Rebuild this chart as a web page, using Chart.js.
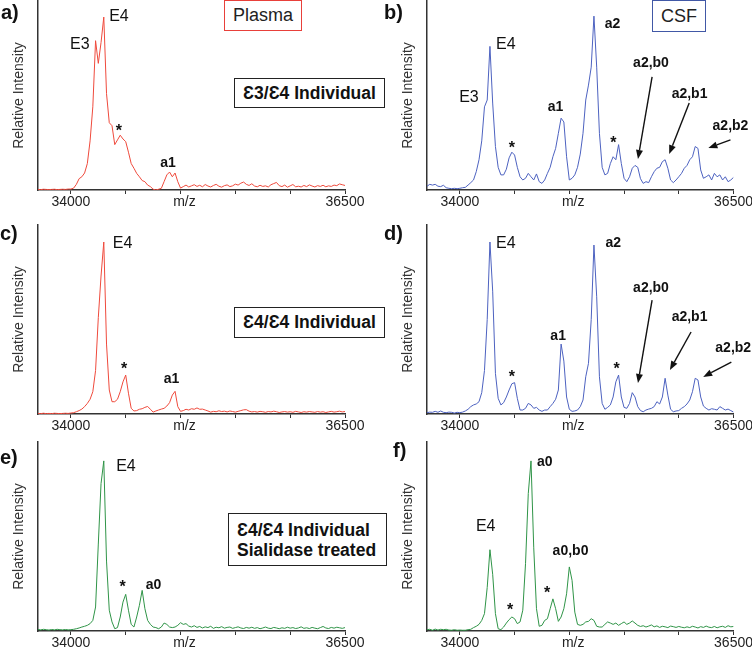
<!DOCTYPE html>
<html lang="en">
<head>
<meta charset="UTF-8">
<title>ApoE mass spectra</title>
<script src="https://cdn.jsdelivr.net/npm/chart.js"></script>
<style>
  body { margin: 0; width: 752px; height: 650px; overflow: hidden; background: #fff; position: relative;
         font-family: "Liberation Sans", Arial, Helvetica, sans-serif; color: #222; }
  .panel { position: absolute; }
  .plab { position: absolute; font-weight: bold; font-size: 20px; line-height: 20px; color: #111; }
  .box { position: absolute; box-sizing: border-box; border: 1.5px solid #222; background: #fff;
         display: flex; align-items: center; justify-content: center; z-index: 5; }
  .big { font-weight: bold; font-size: 17.5px; color: #111; }
</style>
</head>
<body>
<div class="panel" style="left:0;top:0"><canvas id="chA" width="376" height="210"></canvas></div>
<div class="panel" style="left:389px;top:0"><canvas id="chB" width="364" height="210"></canvas></div>
<div class="panel" style="left:0;top:224px"><canvas id="chC" width="376" height="210"></canvas></div>
<div class="panel" style="left:389px;top:224px"><canvas id="chD" width="364" height="210"></canvas></div>
<div class="panel" style="left:0;top:441px"><canvas id="chE" width="376" height="210"></canvas></div>
<div class="panel" style="left:389px;top:441px"><canvas id="chF" width="364" height="210"></canvas></div>

<div class="plab" style="left:1px;top:2px">a)</div>
<div class="plab" style="left:384px;top:2px">b)</div>
<div class="plab" style="left:0;top:223px">c)</div>
<div class="plab" style="left:384px;top:223px">d)</div>
<div class="plab" style="left:0;top:447px">e)</div>
<div class="plab" style="left:393px;top:440px">f)</div>

<div class="box" style="left:224px;top:0;width:78px;height:31px;border-color:#e8403a;font-size:18px">Plasma</div>
<div class="box" style="left:652px;top:0;width:54px;height:32px;border-color:#4158a6;font-size:18px">CSF</div>
<div class="box big" style="left:234px;top:78px;width:151px;height:30px">Ɛ3/Ɛ4 Individual</div>
<div class="box big" style="left:234px;top:307px;width:151px;height:31px">Ɛ4/Ɛ4 Individual</div>
<div class="box big" style="left:228px;top:513px;width:159px;height:53px;justify-content:flex-start;padding-left:8px;line-height:20px">Ɛ4/Ɛ4 Individual<br>Sialidase treated</div>

<script>
// m/z grid (25 Da steps)
const mz = [33700,33725,33750,33775,33800,33825,33850,33875,33900,33925,
  33950,33975,34000,34025,34050,34075,34100,34125,34150,34175,
  34200,34225,34250,34275,34300,34325,34350,34375,34400,34425,
  34450,34475,34500,34525,34550,34575,34600,34625,34650,34675,
  34700,34725,34750,34775,34800,34825,34850,34875,34900,34925,
  34950,34975,35000,35025,35050,35075,35100,35125,35150,35175,
  35200,35225,35250,35275,35300,35325,35350,35375,35400,35425,
  35450,35475,35500,35525,35550,35575,35600,35625,35650,35675,
  35700,35725,35750,35775,35800,35825,35850,35875,35900,35925,
  35950,35975,36000,36025,36050,36075,36100,36125,36150,36175,
  36200,36225,36250,36275,36300,36325,36350,36375,36400,36425,
  36450,36475,36500];

// relative intensities
const plasmaE3E4 = [0.3,0.2,0.4,0.3,0.2,0.3,0.4,0.2,0.3,0.4,
  0.3,0.5,0.5,1,3,6,7,9,14,26,
  44,79,67,78,91.5,51,35.6,34,24,26.5,
  29,27,25.6,20,14,11.5,8.8,7,5,4.4,
  2.6,1.8,0.4,0,0.4,0.9,4.4,8,9.5,7,
  9,4.4,1,1.8,2.6,1.6,2.2,2.8,1.9,2.5,
  1.7,2.9,2.1,1.6,2.4,3.0,2.0,1.5,2.3,2.7,
  1.8,2.2,3.1,2.6,3.6,4.2,3.0,2.4,3.3,2.1,
  1.7,2.5,1.9,2.2,1.6,2.8,3.4,4.0,2.3,1.8,
  2.6,1.5,2.2,2.9,1.7,2.0,1.6,2.4,1.8,2.7,
  2.1,1.6,2.3,1.9,2.5,1.7,2.2,1.9,2.6,2.3,
  3.2,2.8,2.4];
const csfE3E4 = [2,3,2.6,3,2,1.8,2.5,1.2,0.9,0.7,
  0.9,0.7,0.9,1.2,1.4,2.6,3.9,5.3,9.7,16,
  26,44,47.6,76,46,23,12,8,8,11,
  17,20,18.5,12,7,5.3,6.2,8.8,7,5.3,
  8.5,4.4,3.5,5.3,8.8,12,17.6,22,30,38,
  36,17.6,5.3,6.2,8,12,19,30,47.6,55.5,
  65,92,65,30,12,8,8.8,14,17.6,16,
  24,14,6.2,4.4,7,11.5,13,12,6,3.5,
  4.4,3.9,7,9.7,11.5,12,15,16,11.5,5.3,
  3.9,5.3,7,8.8,11.5,13,16,17.6,23,22,
  10.6,6.2,7,8,5.3,8.8,7,8,5.3,7,
  4.4,5.3,6.7];
const plasmaE4E4 = [0.3,0.2,0.4,0.2,0.3,0.2,0.4,0.3,0.2,0.3,
  0.4,0.3,0.5,0.7,1.2,1.8,2.6,3.9,5.6,7.8,
  11.8,23,51,73,91,37,12.7,6.5,6.5,7.8,
  11.8,17,20.6,11,3,1.6,1.8,2.5,2.8,3.5,
  4,2.5,1,1.6,2.1,2.6,3,4.2,6,10,
  12,3.9,1.4,1.8,2.5,2.1,2.8,2.5,3.2,2.5,
  2.6,2.1,1.6,1,1.4,1.2,1.7,1.3,1.5,1.1,
  1.6,1.3,1.0,1.4,1.8,2.2,2.3,1.5,1.1,1.3,
  1.0,1.4,1.2,0.9,1.3,1.1,1.5,1.2,0.8,1.1,
  1.3,1.0,1.2,0.9,1.4,1.1,0.8,1.2,1.0,1.3,
  1.1,0.9,1.3,1.0,1.2,0.8,1.1,1.4,1.0,1.2,
  1.5,1.1,1.3];
const csfE4E4 = [0.7,1,0.9,1.4,0.9,1.6,0.9,0.7,1,0.9,
  0.5,0.9,0.7,1,1.6,2.5,3.9,4.8,5.3,6.5,
  11.3,23,50,91,65,21.5,8.3,4.8,6,9,
  12.7,16,16.6,8.3,2.1,2.1,3,5.6,4.8,3,
  3.5,2.1,1.4,2.1,2.1,3.9,5.6,7.8,12.7,37,
  28,9,2.5,1.4,1.6,2.1,3.9,7.4,19.7,26.8,
  50,89.4,62,19.7,5.6,2.5,3.5,4.8,9,17,
  20.6,9,3.5,3,5.6,11.3,9,3.9,1.8,1.2,
  2.1,2.6,3,3.9,6.5,5.3,9,18.9,10,2.5,
  1.2,1.6,1.8,3,3.9,5.3,7.4,11.8,18.9,18,
  9,4.2,3,2.1,2.8,2.5,2.1,3.9,3,2.1,
  2.6,1.8,1];
const plasmaSial = [0.8,0.6,0.9,0.7,0.5,0.8,0.6,0.9,0.7,0.6,
  0.8,0.6,0.7,0.9,1.2,1.6,2.1,2.5,3,3.9,
  5.6,12.7,46,78,90,37,11,4.8,1.2,1.8,
  7.4,15.3,19.4,11,3.5,2.1,7.4,13.6,21.5,11.8,
  5.6,3.5,2.1,1.8,1.2,2.1,4.2,3.5,2.1,1.8,
  2.1,3,4.4,3.5,3.9,2.6,2.1,2.8,1.9,2.4,
  1.6,2.2,1.8,2.5,1.4,2.0,1.7,2.3,1.5,1.9,
  2.1,1.4,1.8,2.2,1.6,1.3,1.9,1.5,2.0,1.4,
  1.8,1.2,1.6,2.1,1.5,1.3,1.9,1.6,1.2,1.7,
  1.4,2.0,1.5,1.8,1.3,1.6,2.2,1.4,1.7,1.3,
  1.9,1.5,1.2,1.8,2.4,1.6,1.3,1.9,1.5,2.0,
  1.7,1.4,1.8];
const csfSial = [0.7,0.9,0.4,1,0.5,0.9,0.7,0.9,0.5,0.4,
  0.7,0.4,0.5,0.4,0.4,0.7,0.9,1.8,2.5,3.5,
  5.6,9.2,23,43,30,9.2,1.2,0.7,2.1,4.2,
  6,7.4,6.5,3.9,4.8,11,35.6,72.7,90,44,
  11.8,2.5,3,5.6,6.5,11.8,17,11.8,5.1,7.4,
  11.8,19.7,33.9,26.8,10,3.5,3,3.5,4.8,5.1,
  6.5,5.6,2.5,2.1,2.1,3.5,4.8,4.2,3.5,4.2,
  3,3.9,4.8,3.5,4.2,5.3,4.2,3,2.4,2.8,
  2.1,2.6,3.2,2.2,2.7,1.9,2.5,2.2,1.8,2.6,
  2.3,1.9,2.4,2.0,1.7,2.2,1.8,2.5,2.1,1.6,
  2.3,1.9,2.6,2.0,1.8,2.4,1.7,2.2,2.5,1.9,
  2.8,2.2,2.4];

// x axis ticks (the m/z title sits in the 35000 slot, a little to the right)
const tickValues = [34000, 34500, 35000, 35500, 36000, 36500];
const tickText = ['34000', '', '  m/z', '', '', '36500'];

// peak labels (m/z, intensity) and arrows [fromMz, fromInt, toMz, toInt]
const labelsA = [
  {t: 'E3', x: 34082, y: 76.7}, {t: 'E4', x: 34438, y: 91.5},
  {t: '*', x: 34438, y: 33}, {t: 'a1', x: 34885, y: 14.3}];
const labelsB = [
  {t: 'E4', x: 34420, y: 76.7}, {t: 'E3', x: 34083, y: 48.7},
  {t: '*', x: 34475, y: 23.8}, {t: 'a1', x: 34873, y: 43.9},
  {t: 'a2', x: 35394, y: 88}, {t: '*', x: 35403, y: 26.5},
  {t: 'a2,b0', x: 35746, y: 67}, {t: 'a2,b1', x: 36098, y: 50.8},
  {t: 'a2,b2', x: 36472, y: 33.9}];
const arrowsB = [[35756, 59.8, 35627, 16.4], [36095, 46, 35912, 19], [36472, 26.5, 36270, 22.2]];
const labelsC = [
  {t: 'E4', x: 34471, y: 90.3}, {t: '*', x: 34486, y: 25.4}, {t: 'a1', x: 34918, y: 18.4}];
const labelsD = [
  {t: 'E4', x: 34420, y: 90.3}, {t: '*', x: 34475, y: 21.5},
  {t: 'a1', x: 34898, y: 41.3}, {t: 'a2', x: 35401, y: 90.3},
  {t: '*', x: 35432, y: 25.4}, {t: 'a2,b0', x: 35746, y: 66.5},
  {t: 'a2,b1', x: 36098, y: 51.5}, {t: 'a2,b2', x: 36497, y: 34.8}];
const arrowsD = [[35756, 60.3, 35627, 16.4], [36112, 43.4, 35919, 23.3], [36480, 27.5, 36223, 19.6]];
const labelsE = [
  {t: 'E4', x: 34502, y: 86.9}, {t: '*', x: 34471, y: 25.2}, {t: 'a0', x: 34754, y: 24.3}];
const labelsF = [
  {t: 'E4', x: 34236, y: 55.2}, {t: '*', x: 34460, y: 12.9},
  {t: 'a0', x: 34775, y: 89.6}, {t: '*', x: 34797, y: 21.7},
  {t: 'a0,b0', x: 35011, y: 42}];

const FONT = '"Liberation Sans", Arial, Helvetica, sans-serif';

// draws the peak names and arrows on top of the spectrum
const peakLabels = {
  id: 'peakLabels',
  afterDatasetsDraw(chart, args, opts) {
    const ctx = chart.ctx, xs = chart.scales.x, ys = chart.scales.y;
    ctx.save();
    ctx.fillStyle = '#111';
    ctx.strokeStyle = '#111';
    ctx.textAlign = 'center';
    ctx.textBaseline = 'middle';
    (opts.labels || []).forEach(l => {
      const plain = l.t[0] === 'E';
      ctx.font = (plain ? '' : 'bold ') + (plain || l.t === '*' ? 16 : 14) + 'px ' + FONT;
      const dy = l.t === '*' ? 4 : 0;
      ctx.fillText(l.t, xs.getPixelForValue(l.x), ys.getPixelForValue(l.y) + dy);
    });
    (opts.arrows || []).forEach(a => {
      const x1 = xs.getPixelForValue(a[0]), y1 = ys.getPixelForValue(a[1]);
      const x2 = xs.getPixelForValue(a[2]), y2 = ys.getPixelForValue(a[3]);
      const ang = Math.atan2(y2 - y1, x2 - x1);
      const hl = 9, hw = 3.5;
      const bx = x2 - hl * Math.cos(ang), by = y2 - hl * Math.sin(ang);
      ctx.lineWidth = 1.4;
      ctx.beginPath();
      ctx.moveTo(x1, y1);
      ctx.lineTo(bx, by);
      ctx.stroke();
      ctx.beginPath();
      ctx.moveTo(x2, y2);
      ctx.lineTo(bx + hw * Math.sin(ang), by - hw * Math.cos(ang));
      ctx.lineTo(bx - hw * Math.sin(ang), by + hw * Math.cos(ang));
      ctx.closePath();
      ctx.fill();
    });
    ctx.restore();
  }
};

function makeSpectrum(id, values, color, labels, arrows, padRight) {
  new Chart(document.getElementById(id), {
    type: 'line',
    data: {
      datasets: [{
        data: mz.map((m, i) => ({x: m, y: values[i]})),
        borderColor: color,
        borderWidth: 1,
        pointRadius: 0,
        tension: 0,
        fill: false
      }]
    },
    options: {
      responsive: false,
      animation: false,
      layout: {padding: {left: 0, right: padRight, top: 1, bottom: 0}},
      plugins: {
        legend: {display: false},
        tooltip: {enabled: false},
        peakLabels: {labels: labels, arrows: arrows}
      },
      scales: {
        x: {
          type: 'linear',
          min: 33700,
          max: 36500,
          afterBuildTicks: s => { s.ticks = tickValues.map(v => ({value: v})); },
          afterFit: s => { s.height = 20; },
          ticks: {
            autoSkip: false,
            maxRotation: 0,
            padding: 0,
            color: '#222',
            font: {size: 14, family: FONT},
            callback: (v, i) => tickText[i]
          },
          grid: {display: true, drawOnChartArea: false, drawTicks: true, tickLength: 4, color: '#333', lineWidth: 1},
          border: {display: true, color: '#333', width: 1.5}
        },
        y: {
          min: 0,
          max: 100,
          afterFit: s => { s.width = 38; },
          ticks: {display: false},
          grid: {display: false},
          border: {display: true, color: '#333', width: 1.5},
          title: {
            display: true,
            text: 'Relative Intensity',
            color: '#333',
            font: {size: 14, family: FONT},
            padding: {top: 11, bottom: 0}
          }
        }
      }
    },
    plugins: [peakLabels]
  });
}

makeSpectrum('chA', plasmaE3E4, '#ef4a3c', labelsA, [], 31);
makeSpectrum('chB', csfE3E4, '#4d62c0', labelsB, arrowsB, 19);
makeSpectrum('chC', plasmaE4E4, '#ef4a3c', labelsC, [], 31);
makeSpectrum('chD', csfE4E4, '#4d62c0', labelsD, arrowsD, 19);
makeSpectrum('chE', plasmaSial, '#2f9447', labelsE, [], 31);
makeSpectrum('chF', csfSial, '#2f9447', labelsF, [], 19);
</script>
</body>
</html>
